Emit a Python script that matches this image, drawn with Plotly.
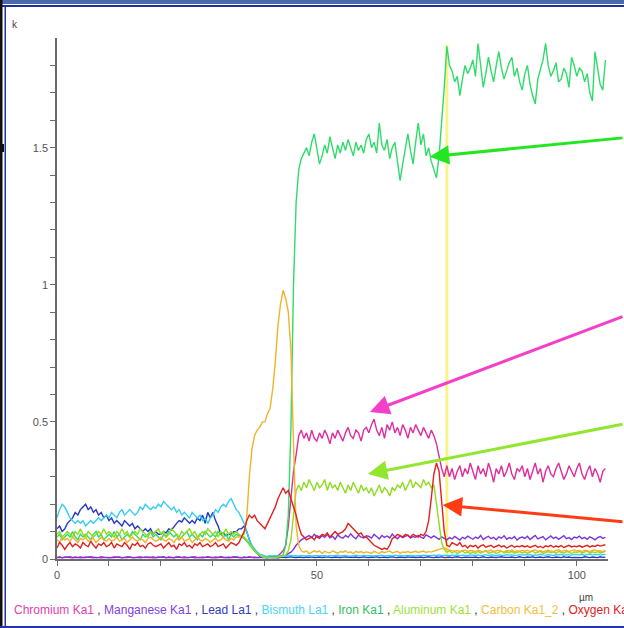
import plotly.graph_objects as go

# ---------------- data (k-ratio vs distance, µm) ----------------
X_STEP = 0.5
N_POINTS = 212  # 0 .. 105.5 µm

IRON = [
    0.08,0.09,0.07,0.08,0.09,0.08,0.10,0.08,0.07,0.09,0.08,0.09,0.08,0.07,0.09,0.10,0.08,0.09,0.07,0.08,
    0.09,0.08,0.10,0.08,0.09,0.07,0.08,0.09,0.08,0.10,0.09,0.08,0.07,0.09,0.08,0.09,0.10,0.08,0.09,0.08,
    0.07,0.09,0.08,0.10,0.09,0.08,0.09,0.07,0.08,0.09,0.10,0.08,0.09,0.08,0.07,0.09,0.08,0.10,0.09,0.08,
    0.09,0.08,0.10,0.09,0.08,0.09,0.07,0.09,0.08,0.09,0.085,0.08,0.075,0.065,0.05,0.04,0.03,0.02,0.012,0.008,
    0.006,0.005,0.006,0.005,0.007,0.008,0.01,0.015,0.05,0.16,0.48,1.00,1.30,1.42,1.46,1.48,1.50,1.47,1.52,1.55,
    1.49,1.44,1.47,1.51,1.48,1.54,1.50,1.46,1.51,1.48,1.52,1.49,1.53,1.50,1.47,1.52,1.49,1.51,1.48,1.53,
    1.55,1.50,1.52,1.48,1.59,1.51,1.49,1.53,1.46,1.50,1.52,1.45,1.38,1.44,1.50,1.55,1.49,1.44,1.52,1.59,
    1.51,1.55,1.47,1.50,1.45,1.42,1.39,1.47,1.58,1.72,1.87,1.80,1.78,1.74,1.76,1.69,1.75,1.80,1.77,1.79,
    1.82,1.76,1.88,1.79,1.72,1.77,1.83,1.78,1.74,1.80,1.85,1.79,1.75,1.78,1.81,1.83,1.76,1.79,1.74,1.71,
    1.77,1.80,1.73,1.69,1.66,1.75,1.79,1.82,1.88,1.80,1.76,1.78,1.81,1.74,1.75,1.79,1.77,1.72,1.83,1.80,
    1.76,1.79,1.78,1.74,1.77,1.70,1.67,1.85,1.79,1.73,1.71,1.82,
]

CHROMIUM = [
    0.006,0.008,0.005,0.007,0.006,0.009,0.005,0.007,0.006,0.008,0.005,0.007,0.006,0.008,0.007,0.005,0.006,0.008,0.007,0.006,
    0.007,0.005,0.008,0.006,0.007,0.005,0.006,0.008,0.007,0.006,0.005,0.007,0.008,0.006,0.005,0.007,0.006,0.008,0.005,0.007,
    0.006,0.008,0.005,0.007,0.006,0.005,0.008,0.007,0.006,0.008,0.005,0.006,0.007,0.008,0.006,0.005,0.007,0.006,0.008,0.007,
    0.005,0.007,0.006,0.008,0.006,0.005,0.007,0.006,0.008,0.007,0.006,0.005,0.007,0.006,0.008,0.006,0.007,0.005,0.006,0.007,
    0.006,0.006,0.007,0.008,0.010,0.012,0.020,0.030,0.050,0.12,0.22,0.32,0.38,0.45,0.47,0.44,0.46,0.43,0.47,0.44,
    0.43,0.46,0.44,0.47,0.45,0.42,0.46,0.44,0.47,0.45,0.43,0.46,0.48,0.45,0.44,0.47,0.46,0.43,0.47,0.48,
    0.46,0.49,0.51,0.47,0.45,0.48,0.44,0.49,0.47,0.50,0.46,0.48,0.45,0.49,0.47,0.44,0.48,0.46,0.49,0.47,
    0.45,0.48,0.46,0.44,0.47,0.45,0.42,0.37,0.33,0.30,0.34,0.30,0.33,0.29,0.32,0.34,0.30,0.33,0.31,0.35,
    0.32,0.29,0.34,0.31,0.33,0.30,0.35,0.32,0.28,0.33,0.31,0.34,0.30,0.32,0.35,0.31,0.29,0.33,0.32,0.34,
    0.30,0.33,0.29,0.32,0.35,0.31,0.33,0.28,0.32,0.34,0.31,0.30,0.33,0.35,0.32,0.29,0.31,0.34,0.32,0.30,
    0.33,0.35,0.31,0.29,0.32,0.34,0.30,0.33,0.31,0.28,0.32,0.33,
]

MANGANESE = [
    0.005,0.006,0.004,0.005,0.007,0.005,0.004,0.006,0.005,0.004,0.006,0.005,0.007,0.005,0.004,0.006,0.005,0.004,0.006,0.005,
    0.004,0.006,0.005,0.007,0.005,0.004,0.006,0.005,0.007,0.004,0.005,0.006,0.004,0.005,0.007,0.005,0.006,0.004,0.005,0.006,
    0.005,0.007,0.004,0.006,0.005,0.004,0.006,0.007,0.005,0.004,0.006,0.005,0.007,0.004,0.005,0.006,0.004,0.005,0.007,0.005,
    0.006,0.004,0.005,0.007,0.005,0.006,0.004,0.005,0.006,0.007,0.005,0.004,0.006,0.005,0.007,0.005,0.004,0.006,0.005,0.006,
    0.005,0.004,0.006,0.005,0.006,0.005,0.006,0.006,0.01,0.02,0.025,0.035,0.05,0.06,0.07,0.075,0.08,0.085,0.078,0.09,
    0.08,0.075,0.085,0.079,0.09,0.077,0.083,0.072,0.088,0.08,0.076,0.086,0.079,0.092,0.081,0.074,0.087,0.08,0.077,0.085,
    0.082,0.076,0.09,0.08,0.073,0.086,0.079,0.084,0.077,0.091,0.08,0.074,0.085,0.078,0.083,0.088,0.076,0.082,0.079,0.086,
    0.08,0.075,0.088,0.082,0.077,0.084,0.079,0.072,0.081,0.076,0.07,0.078,0.073,0.082,0.075,0.069,0.079,0.074,0.083,0.076,
    0.072,0.08,0.075,0.086,0.071,0.078,0.083,0.074,0.079,0.07,0.081,0.076,0.085,0.072,0.078,0.074,0.082,0.069,0.077,0.08,
    0.075,0.083,0.071,0.079,0.086,0.073,0.077,0.082,0.07,0.078,0.084,0.075,0.08,0.072,0.079,0.085,0.074,0.078,0.071,0.08,
    0.077,0.083,0.074,0.079,0.072,0.081,0.076,0.07,0.078,0.082,0.075,0.079,
]

LEAD = [
    0.11,0.12,0.10,0.11,0.13,0.14,0.15,0.17,0.16,0.18,0.19,0.20,0.18,0.19,0.17,0.18,0.16,0.17,0.15,0.16,
    0.14,0.15,0.13,0.14,0.13,0.12,0.14,0.13,0.12,0.13,0.11,0.12,0.11,0.10,0.11,0.10,0.11,0.09,0.10,0.09,
    0.09,0.10,0.095,0.11,0.105,0.12,0.13,0.14,0.135,0.15,0.14,0.13,0.14,0.13,0.15,0.14,0.16,0.13,0.17,0.15,
    0.17,0.14,0.12,0.09,0.095,0.085,0.09,0.09,0.10,0.10,0.11,0.11,0.12,0.10,0.07,0.045,0.03,0.02,0.01,0.007,
    0.006,0.005,0.007,0.005,0.006,0.004,0.006,0.007,0.005,0.006,0.008,0.006,0.005,0.007,0.006,0.005,0.007,0.006,0.008,0.005,
    0.006,0.007,0.005,0.006,0.008,0.006,0.005,0.007,0.006,0.005,0.007,0.008,0.006,0.005,0.006,0.007,0.005,0.006,0.008,0.006,
    0.005,0.007,0.006,0.008,0.005,0.006,0.007,0.005,0.006,0.008,0.006,0.005,0.007,0.006,0.005,0.008,0.006,0.007,0.005,0.006,
    0.007,0.005,0.006,0.008,0.006,0.005,0.007,0.006,0.008,0.005,0.006,0.007,0.005,0.006,0.008,0.006,0.005,0.007,0.006,0.005,
    0.006,0.007,0.005,0.006,0.008,0.006,0.005,0.007,0.006,0.005,0.007,0.008,0.006,0.005,0.006,0.007,0.005,0.006,0.008,0.006,
    0.005,0.007,0.006,0.008,0.005,0.006,0.007,0.005,0.006,0.008,0.006,0.005,0.007,0.006,0.005,0.008,0.006,0.007,0.005,0.006,
    0.006,0.007,0.005,0.008,0.006,0.005,0.007,0.006,0.005,0.008,0.006,0.007,
]

BISMUTH = [
    0.15,0.18,0.20,0.19,0.17,0.15,0.14,0.13,0.14,0.13,0.14,0.12,0.13,0.14,0.13,0.14,0.15,0.14,0.15,0.16,
    0.15,0.17,0.16,0.15,0.17,0.18,0.16,0.17,0.18,0.17,0.16,0.17,0.19,0.18,0.20,0.19,0.18,0.19,0.185,0.20,
    0.19,0.21,0.20,0.19,0.18,0.19,0.17,0.18,0.16,0.17,0.16,0.15,0.17,0.16,0.15,0.16,0.14,0.15,0.13,0.15,
    0.16,0.18,0.17,0.19,0.20,0.19,0.21,0.22,0.20,0.18,0.17,0.15,0.13,0.10,0.07,0.05,0.035,0.025,0.018,0.013,
    0.011,0.010,0.012,0.011,0.013,0.010,0.012,0.011,0.010,0.012,0.013,0.011,0.012,0.010,0.013,0.012,0.011,0.013,0.010,0.012,
    0.012,0.011,0.013,0.012,0.010,0.013,0.011,0.012,0.014,0.011,0.012,0.013,0.011,0.010,0.012,0.014,0.012,0.011,0.013,0.012,
    0.013,0.012,0.011,0.013,0.012,0.014,0.011,0.012,0.013,0.011,0.014,0.012,0.013,0.011,0.012,0.014,0.013,0.012,0.011,0.013,
    0.012,0.014,0.013,0.011,0.012,0.014,0.013,0.015,0.012,0.014,0.013,0.012,0.014,0.013,0.015,0.012,0.014,0.013,0.012,0.015,
    0.014,0.013,0.015,0.012,0.014,0.016,0.013,0.015,0.014,0.012,0.015,0.014,0.013,0.016,0.014,0.015,0.013,0.014,0.016,0.015,
    0.015,0.014,0.016,0.013,0.015,0.014,0.017,0.015,0.014,0.016,0.015,0.013,0.016,0.015,0.017,0.014,0.016,0.015,0.014,0.017,
    0.016,0.015,0.017,0.014,0.016,0.018,0.015,0.016,0.017,0.015,0.016,0.017,
]

ALUMINUM = [
    0.09,0.10,0.08,0.09,0.10,0.09,0.08,0.10,0.09,0.11,0.09,0.08,0.10,0.09,0.08,0.09,0.10,0.09,0.11,0.09,
    0.10,0.09,0.08,0.10,0.09,0.11,0.09,0.10,0.08,0.09,0.10,0.09,0.11,0.10,0.09,0.08,0.10,0.09,0.10,0.11,
    0.09,0.10,0.08,0.09,0.11,0.10,0.09,0.08,0.10,0.09,0.10,0.11,0.09,0.10,0.08,0.09,0.10,0.09,0.11,0.10,
    0.09,0.10,0.08,0.10,0.09,0.11,0.09,0.10,0.09,0.10,0.09,0.085,0.08,0.07,0.055,0.04,0.03,0.02,0.013,0.009,
    0.006,0.005,0.006,0.005,0.006,0.007,0.008,0.01,0.015,0.03,0.07,0.17,0.25,0.27,0.25,0.28,0.26,0.29,0.27,0.25,
    0.28,0.26,0.27,0.29,0.25,0.28,0.26,0.27,0.25,0.28,0.26,0.24,0.27,0.25,0.28,0.26,0.24,0.27,0.25,0.26,
    0.24,0.26,0.23,0.25,0.27,0.24,0.26,0.25,0.23,0.26,0.25,0.27,0.26,0.28,0.25,0.27,0.29,0.26,0.28,0.27,
    0.26,0.29,0.27,0.28,0.26,0.27,0.20,0.12,0.06,0.035,0.025,0.03,0.022,0.028,0.02,0.025,0.03,0.022,0.026,0.02,
    0.025,0.02,0.028,0.022,0.026,0.03,0.021,0.024,0.027,0.02,0.025,0.029,0.022,0.026,0.023,0.028,0.021,0.025,0.027,0.022,
    0.026,0.021,0.024,0.029,0.022,0.025,0.028,0.02,0.024,0.027,0.023,0.026,0.021,0.028,0.024,0.022,0.027,0.025,0.02,0.026,
    0.024,0.028,0.022,0.025,0.029,0.021,0.026,0.023,0.027,0.022,0.025,0.028,
]

CARBON = [
    0.07,0.06,0.08,0.07,0.075,0.065,0.08,0.07,0.06,0.075,0.07,0.08,0.065,0.07,0.075,0.06,0.07,0.08,0.07,0.065,
    0.075,0.065,0.07,0.08,0.065,0.07,0.075,0.06,0.07,0.08,0.07,0.065,0.075,0.07,0.06,0.075,0.08,0.07,0.065,0.07,
    0.08,0.07,0.065,0.075,0.07,0.06,0.075,0.07,0.08,0.065,0.07,0.075,0.06,0.07,0.08,0.07,0.065,0.075,0.07,0.06,
    0.07,0.075,0.065,0.07,0.08,0.07,0.065,0.075,0.07,0.08,0.08,0.085,0.09,0.15,0.30,0.40,0.45,0.47,0.48,0.50,
    0.50,0.53,0.55,0.62,0.72,0.85,0.93,0.98,0.95,0.90,0.76,0.42,0.12,0.05,0.03,0.025,0.03,0.02,0.025,0.03,
    0.025,0.03,0.02,0.028,0.024,0.022,0.03,0.026,0.021,0.027,0.025,0.03,0.023,0.026,0.02,0.028,0.024,0.027,0.022,0.026,
    0.024,0.021,0.028,0.025,0.02,0.027,0.023,0.026,0.029,0.022,0.025,0.028,0.021,0.026,0.024,0.027,0.023,0.025,0.028,0.024,
    0.026,0.029,0.024,0.027,0.025,0.03,0.032,0.035,0.038,0.04,0.035,0.032,0.03,0.028,0.031,0.027,0.03,0.033,0.028,0.031,
    0.03,0.027,0.032,0.029,0.026,0.031,0.028,0.033,0.027,0.03,0.032,0.028,0.026,0.031,0.029,0.033,0.027,0.03,0.028,0.032,
    0.029,0.032,0.027,0.03,0.033,0.028,0.031,0.026,0.03,0.032,0.029,0.027,0.031,0.034,0.028,0.03,0.032,0.027,0.03,0.033,
    0.029,0.031,0.028,0.032,0.03,0.027,0.031,0.033,0.029,0.03,0.028,0.031,
]

OXYGEN = [
    0.04,0.06,0.05,0.035,0.05,0.06,0.045,0.055,0.05,0.04,0.06,0.05,0.045,0.065,0.05,0.04,0.055,0.05,0.06,0.045,
    0.05,0.06,0.04,0.055,0.05,0.045,0.06,0.05,0.035,0.055,0.05,0.06,0.045,0.05,0.04,0.055,0.06,0.05,0.045,0.05,
    0.055,0.04,0.05,0.06,0.045,0.05,0.035,0.055,0.05,0.06,0.045,0.05,0.04,0.055,0.05,0.06,0.045,0.05,0.055,0.045,
    0.05,0.06,0.045,0.05,0.055,0.04,0.05,0.06,0.055,0.05,0.06,0.08,0.10,0.14,0.16,0.15,0.16,0.14,0.13,0.12,
    0.11,0.13,0.15,0.17,0.19,0.22,0.24,0.26,0.24,0.25,0.22,0.19,0.16,0.12,0.09,0.08,0.07,0.075,0.08,0.07,
    0.085,0.08,0.09,0.085,0.095,0.08,0.09,0.10,0.09,0.095,0.10,0.11,0.13,0.12,0.11,0.10,0.09,0.095,0.08,0.08,
    0.07,0.06,0.05,0.045,0.04,0.035,0.04,0.035,0.05,0.075,0.08,0.09,0.085,0.08,0.09,0.085,0.08,0.09,0.085,0.08,
    0.09,0.085,0.10,0.14,0.22,0.31,0.35,0.32,0.21,0.10,0.05,0.045,0.06,0.055,0.05,0.06,0.045,0.05,0.04,0.05,
    0.045,0.05,0.04,0.048,0.052,0.043,0.047,0.05,0.042,0.046,0.051,0.044,0.048,0.04,0.046,0.05,0.043,0.047,0.045,0.049,
    0.044,0.048,0.042,0.047,0.05,0.043,0.046,0.041,0.048,0.045,0.05,0.043,0.047,0.044,0.049,0.042,0.046,0.05,0.044,0.047,
    0.045,0.049,0.043,0.047,0.05,0.044,0.048,0.046,0.051,0.047,0.049,0.052,
]

SERIES_NAMES = ["Chromium Ka1", "Manganese Ka1", "Lead La1", "Bismuth La1",
                "Iron Ka1", "Aluminum Ka1", "Carbon Ka1_2", "Oxygen Ka1"]
SERIES_VALUES = [CHROMIUM, MANGANESE, LEAD, BISMUTH, IRON, ALUMINUM, CARBON, OXYGEN]
LINE_COLORS = ["#de2d9c", "#7d33e0", "#2438c4", "#35cdf0",
               "#2fdc6a", "#8fdb22", "#f0b429", "#e3201f"]
LABEL_COLORS = ["#e040b0", "#8040e0", "#3040b8", "#45d6f2",
                "#30c060", "#a0e040", "#f0c040", "#e02020"]

Y_TICKS = [0, 0.1, 0.2, 0.3, 0.4, 0.5, 0.6, 0.7, 0.8, 0.9, 1.0,
           1.1, 1.2, 1.3, 1.4, 1.5, 1.6, 1.7, 1.8]
Y_TICK_LABELS = {0: "0", 0.5: "0.5", 1.0: "1", 1.5: "1.5"}
X_TICKS = [0, 10, 20, 30, 40, 50, 60, 70, 80, 90, 100]
X_TICK_LABELS = {0: "0", 50: "50", 100: "100"}

CURSOR_X = 75.0  # pale yellow marker line

for v in SERIES_VALUES:
    assert len(v) == N_POINTS, len(v)

x = [i * X_STEP for i in range(N_POINTS)]

# ---------------- layout geometry ----------------
W, H = 624, 628
ML, MR, MT, MB = 57, 16, 38, 69
PW, PH = W - ML - MR, H - MT - MB


def paper(px, py):
    return (px - ML) / PW, (H - MB - py) / PH


fig = go.Figure()

for name, vals, col in zip(SERIES_NAMES, SERIES_VALUES, LINE_COLORS):
    fig.add_trace(go.Scatter(x=x, y=vals, mode="lines", name=name,
                             line=dict(color=col, width=1.4),
                             hoverinfo="skip"))

shapes = []
# cursor line
shapes.append(dict(type="line", xref="x", yref="y", x0=CURSOR_X, x1=CURSOR_X,
                   y0=0, y1=1.875, line=dict(color="#fbf38a", width=3), layer="below"))


def rect_px(x0, y0, x1, y1, color):
    a = paper(x0, y0)
    b = paper(x1, y1)
    return dict(type="rect", xref="paper", yref="paper", x0=a[0], x1=b[0],
                y0=a[1], y1=b[1], fillcolor=color, line=dict(width=0), layer="above")


# window frame decorations
shapes.append(rect_px(0, 0, 624, 4, "#4a6aa8"))
shapes.append(rect_px(0, 5, 624, 7, "#1e2e9e"))
shapes.append(rect_px(0, 0, 2.5, 628, "#111111"))
shapes.append(rect_px(4.5, 5, 6, 628, "#2233b0"))
shapes.append(rect_px(0, 626, 624, 628, "#2233b0"))
shapes.append(rect_px(0, 144, 4, 152, "#111111"))

annotations = []
# arrows: tip in data coords, tail offset in pixels
ARROWS = [
    (71.7, 1.467, 220, -19, "#22e622"),
    (60.2, 0.536, 280, -96, "#f53fc8"),
    (59.8, 0.310, 280, -50, "#92e630"),
    (74.2, 0.197, 200, 17, "#ff3c14"),
]
for ax_, ay_, dx, dy, col in ARROWS:
    annotations.append(dict(x=ax_, y=ay_, xref="x", yref="y", text="",
                            showarrow=True, ax=dx, ay=dy, axref="pixel", ayref="pixel",
                            arrowhead=2, arrowsize=1.3, arrowwidth=3, arrowcolor=col,
                            standoff=0))

kx, ky = paper(10, 25)
annotations.append(dict(x=kx, y=ky, xref="paper", yref="paper", text="k",
                        showarrow=False, xanchor="left", yanchor="middle",
                        font=dict(family="Liberation Sans, Arial", size=10, color="#444")))
ux, uy = paper(586, 597)
annotations.append(dict(x=ux, y=uy, xref="paper", yref="paper", text="µm",
                        showarrow=False, xanchor="center", yanchor="middle",
                        font=dict(family="Liberation Sans, Arial", size=10, color="#444")))

sep = '<span style="color:#333333"> , </span>'
legend_html = sep.join(f'<span style="color:{c}">{n}</span>'
                       for n, c in zip(SERIES_NAMES, LABEL_COLORS))
lx, ly = paper(12, 610)
annotations.append(dict(x=lx, y=ly, xref="paper", yref="paper", text=legend_html,
                        showarrow=False, xanchor="left", yanchor="middle",
                        font=dict(family="Liberation Sans, Arial", size=12)))

axis_common = dict(showline=True, linecolor="#6a6a6a", linewidth=1.5,
                   ticks="outside", ticklen=5, tickwidth=1, tickcolor="#6a6a6a",
                   showgrid=False, zeroline=False,
                   tickfont=dict(family="Liberation Sans, Arial", size=11, color="#555555"))

fig.update_layout(
    width=W, height=H,
    margin=dict(l=ML, r=MR, t=MT, b=MB, autoexpand=False),
    paper_bgcolor="white", plot_bgcolor="white",
    showlegend=False,
    xaxis=dict(range=[0, 106], tickvals=X_TICKS,
               ticktext=[X_TICK_LABELS.get(v, "") for v in X_TICKS], **axis_common),
    yaxis=dict(range=[0, 1.9], tickvals=Y_TICKS,
               ticktext=[Y_TICK_LABELS.get(round(v, 1), "") for v in Y_TICKS], **axis_common),
    shapes=shapes,
    annotations=annotations,
)

fig.write_html("out.html", config={"displayModeBar": False},
               post_script="document.body.style.margin='0';document.body.style.overflow='hidden';")
